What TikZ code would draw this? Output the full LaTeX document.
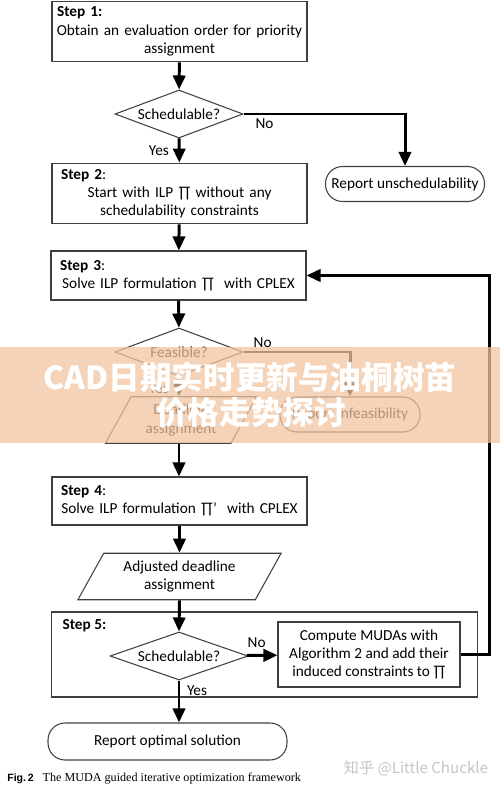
\documentclass[tikz,border=0pt]{standalone}
\usepackage{fontspec}
\setmainfont{Carlito}
\newfontfamily\capsans{Liberation Sans}
\newfontfamily\capserif{Liberation Serif}
\newfontfamily\cjk{Noto Sans CJK SC}
\usetikzlibrary{positioning,shapes.geometric,arrows.meta}
\definecolor{bannerpeach}{RGB}{240,196,160}
\definecolor{markgray}{RGB}{196,196,196}

\begin{document}
\begin{tikzpicture}[
    x=0.02cm, y=-0.02cm,
    font=\fontsize{8.7}{10.4}\selectfont,
    stepbox/.style={
        rectangle,
        draw=black!75,
        line width=0.6pt,
        text width=4.94cm,
        inner xsep=0.08cm,
        align=center
    },
    decision/.style={
        diamond,
        aspect=2.67,
        draw=black!75,
        line width=0.6pt,
        minimum width=2.56cm,
        minimum height=0.96cm,
        inner sep=0pt
    },
    iobox/.style={
        trapezium,
        trapezium left angle=64,
        trapezium right angle=116,
        trapezium stretches=true,
        draw=black!75,
        line width=0.6pt,
        align=center,
        minimum height=0.93cm
    },
    endbox/.style={
        rectangle,
        rounded corners=0.34cm,
        draw=black!75,
        line width=0.6pt,
        minimum height=0.7cm
    },
    lbl/.style={inner sep=1pt},
    arrow/.style={line width=1.7pt, -{Triangle[length=8pt,width=7pt]}},
    link/.style={line width=1.7pt}
]

\useasboundingbox (0,0) rectangle (500,790);

% main column
\node (step1) [stepbox, minimum height=1.1cm] at (179.5,31.5)
    {\makebox[\hsize][l]{\hspace{0.02cm}\textbf{Step 1:}}\\
     Obtain an evaluation order for priority\\ assignment};
\node (dia1) [decision] at (179,114) {Schedulable?};
\node (step2) [stepbox, minimum height=1.1cm] at (179.5,193.5)
    {\makebox[\hsize][l]{\hspace{0.1cm}\textbf{Step 2}:}\\
     Start with ILP ∏ without any\\ schedulability constraints};
\node (step3) [stepbox, minimum height=0.98cm] at (178.5,275.5)
    {\makebox[\hsize][l]{\hspace{0.1cm}\textbf{Step 3}:}\\
     Solve ILP formulation ∏~~with CPLEX};
\node (dia2) [decision] at (179,352) {Feasible?};
\node (dead) [iobox, minimum width=3.04cm] at (181,420) {Deadline\\ assignment};
\node (step4) [stepbox, minimum height=0.96cm] at (179.5,501)
    {\makebox[\hsize][l]{\hspace{0.1cm}\textbf{Step 4}:}\\
     Solve ILP formulation ∏’~~with CPLEX};
\node (adj) [iobox, minimum width=4.1cm] at (179.5,576.5) {Adjusted deadline\\ assignment};

% step 5
\node (step5) [rectangle, draw=black!75, line width=0.6pt,
    minimum width=8.54cm, minimum height=1.7cm] at (264.5,654.5) {};
\node (s5title) [lbl, below right=0.12cm and 0.2cm of step5.north west] {\textbf{Step 5:}};
\node (dia3) [decision, minimum width=2.76cm] at (179,656) {Schedulable?};
\node (muda) [rectangle, draw=black!75, line width=0.6pt, align=center,
    minimum width=3.64cm, minimum height=1.3cm] at (369,654.5)
    {Compute MUDAs with\\ Algorithm 2 and add their\\ induced constraints to ∏};

% end points
\node (unsched) [endbox, minimum width=3.16cm] at (405,184) {Report unschedulability};
\node (infeas) [endbox, minimum width=2.8cm] at (350,414.5) {Report infeasibility};
\node (optimal) [endbox, minimum width=4.78cm, minimum height=0.74cm] at (167.5,741.5)
    {Report optimal solution};

% yes / no
\node (no1) [lbl, below right=0.06cm and 0.2cm of dia1.east] {No};
\node (yes1) [lbl, below left=0.1cm and 0.16cm of dia1.south] {Yes};
\node (no2) [lbl, above right=0.04cm and 0.16cm of dia2.east] {No};
\node (yes2) [lbl, below left=0.1cm and 0.16cm of dia2.south] {Yes};
\node (no3) [lbl, above right=0.12cm and -0.06cm of dia3.east] {No};
\node (yes3) [lbl, below right=0.06cm and 0.12cm of dia3.south] {Yes};

\coordinate (back) at (489,300);

\draw [arrow] (step1) -- (dia1);
\draw [arrow] (dia1.east) -| (unsched.north);
\draw [arrow] (dia1) -- (step2);
\draw [arrow] (step2) -- (step3);
\draw [arrow] (step3) -- (dia2);
\draw [arrow] (dia2.east) -| (infeas.north);
\draw [arrow] (dia2.south) -- (dia2.south |- dead.north);
\draw [arrow] (dead.south -| dia2.south) -- (step4.north -| dia2.south);
\draw [arrow] (step4.south -| adj.north) -- (adj.north);
\draw [arrow] (adj.south) -- (dia3.north);
\draw [arrow] (dia3) -- (muda);
\draw [arrow] (muda.east) -| (back) |- (step3.east);
\draw [arrow] (dia3.south) -- (dia3.south |- optimal.north);

% caption and marks
\node (caption) [anchor=west, inner sep=0pt] at (7,779)
    {{\capsans\bfseries\fontsize{6}{7}\selectfont Fig.\,2}\hspace{0.18cm}%
     {\capserif\fontsize{6.9}{8}\selectfont The MUDA guided iterative optimization framework}};
\node (mark) [text=markgray, font=\cjk\fontsize{8.6}{10}\selectfont] at (416,768)
    {知乎 @Little Chuckle};

\fill [bannerpeach, fill opacity=0.75] (0,347) rectangle (500,443);
\node (banner1) [text=white, font=\cjk\bfseries\fontsize{18}{20}\selectfont] at (250,377)
    {CAD日期实时更新与油桐树苗};
\node (banner2) [text=white, font=\cjk\bfseries\fontsize{18}{20}\selectfont] at (251,413)
    {价格走势探讨};

\end{tikzpicture}
\end{document}
